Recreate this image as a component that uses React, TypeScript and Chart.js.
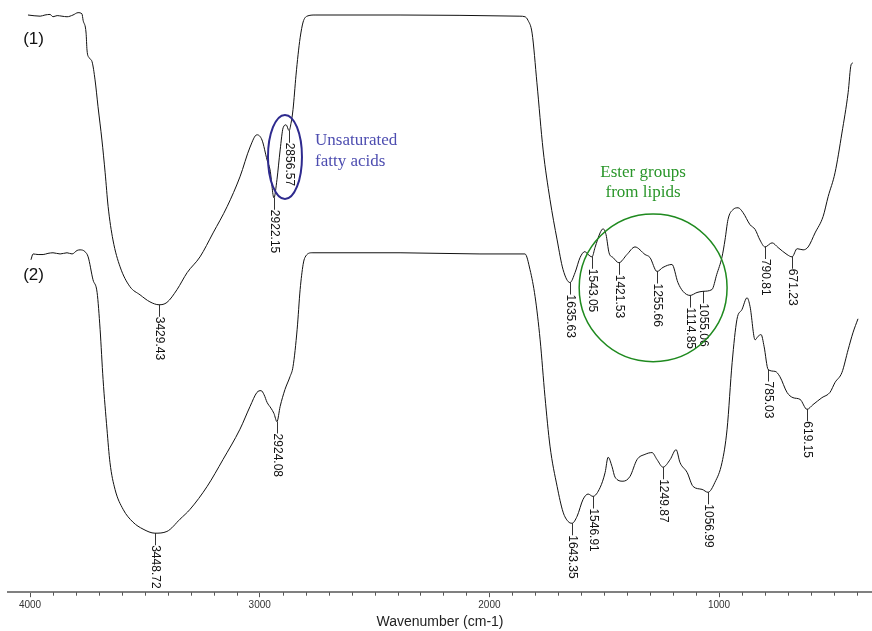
import React, { useEffect, useRef } from "react";
import { Chart, registerables } from "chart.js";

Chart.register(...registerables);

// Spectrum (1): wavenumber (cm-1) and transmittance-like values
const WAVENUMBER_1 = [
  4009, 3956, 3935, 3913, 3900, 3882, 3861, 3839, 3813, 3791, 3774, 3769, 3756, 3752, 3743, 3730,
  3717, 3704, 3687, 3673, 3660, 3639, 3608, 3565, 3521, 3478, 3438, 3404, 3360, 3316, 3260, 3203,
  3142, 3086, 3042, 3012, 2990, 2968, 2955, 2938, 2925, 2911, 2898, 2885, 2872, 2864, 2855, 2842,
  2833, 2824, 2811, 2794, 2759, 2389, 1867, 1845, 1832, 1814, 1793, 1766, 1736, 1705, 1679, 1649,
  1627, 1605, 1584, 1570, 1553, 1540, 1518, 1505, 1492, 1479, 1462, 1436, 1401, 1366, 1322, 1301,
  1270, 1244, 1205, 1179, 1157, 1126, 1096, 1070, 1031, 1010, 987, 974, 961, 939, 917, 896,
  865, 843, 822, 800, 769, 743, 704, 682, 660, 634, 612, 582, 547, 525, 495, 465,
  438, 425, 417,
];
const TRANSMITTANCE_1 = [
  98.8, 98.6, 98.8, 98.9, 98.5, 98.7, 98.6, 98.5, 98.8, 99.2, 99.0, 97.9, 95.7, 92.8, 91.5, 90.8,
  87.7, 83.1, 77.4, 71.8, 66.0, 60.3, 55.7, 52.3, 50.9, 49.7, 49.2, 49.6, 51.8, 54.7, 57.4, 61.5,
  66.0, 71.1, 76.2, 78.3, 77.4, 74.0, 72.3, 67.5, 70.6, 75.7, 79.5, 80.0, 79.0, 80.2, 82.6, 88.5,
  92.0, 94.9, 97.6, 98.6, 98.8, 98.8, 98.6, 98.5, 97.9, 95.7, 87.2, 75.7, 67.2, 60.3, 55.2, 53.0,
  54.7, 57.3, 58.3, 57.8, 57.4, 59.0, 61.5, 62.2, 61.2, 58.1, 57.3, 56.4, 57.8, 59.1, 57.8, 57.3,
  54.9, 55.6, 56.1, 53.0, 51.5, 50.8, 51.3, 51.5, 51.8, 54.4, 57.4, 60.3, 63.8, 65.5, 65.8, 65.0,
  62.9, 62.1, 60.3, 59.1, 59.8, 59.0, 57.8, 57.4, 58.8, 58.6, 59.1, 61.5, 64.3, 67.7, 71.8, 78.6,
  85.5, 90.3, 90.6,
];

// Spectrum (2)
const WAVENUMBER_2 = [
  3996, 3987, 3965, 3943, 3922, 3900, 3869, 3839, 3817, 3795, 3782, 3761, 3747, 3726, 3708, 3695,
  3682, 3665, 3652, 3630, 3595, 3552, 3508, 3456, 3404, 3347, 3303, 3229, 3160, 3086, 3042, 3012,
  2994, 2981, 2968, 2951, 2938, 2925, 2911, 2890, 2868, 2855, 2837, 2824, 2811, 2803, 2772, 2389,
  2041, 1845, 1823, 1801, 1779, 1758, 1736, 1705, 1679, 1657, 1640, 1618, 1592, 1570, 1549, 1518,
  1496, 1483, 1466, 1453, 1418, 1388, 1357, 1322, 1292, 1270, 1244, 1213, 1187, 1170, 1139, 1113,
  1074, 1048, 1018, 987, 965, 943, 922, 900, 878, 865, 843, 830, 817, 804, 786, 756,
  735, 704, 678, 647, 617, 591, 552, 517, 495, 465, 438, 417, 395,
];
const TRANSMITTANCE_2 = [
  56.9, 57.9, 57.8, 57.8, 58.0, 58.1, 57.9, 58.1, 57.9, 58.5, 58.6, 58.3, 57.4, 53.5, 51.3, 45.0,
  36.4, 27.9, 22.2, 17.6, 14.2, 12.0, 10.8, 10.1, 10.4, 12.5, 14.2, 18.1, 22.7, 27.9, 31.8, 34.2,
  34.5, 33.8, 32.5, 31.5, 30.6, 29.2, 31.8, 34.7, 36.9, 38.6, 45.0, 51.8, 56.1, 57.3, 58.1, 58.1,
  57.9, 57.9, 55.2, 50.6, 43.2, 33.5, 25.0, 18.1, 13.7, 12.1, 11.8, 13.0, 15.9, 16.8, 16.4, 17.9,
  20.5, 23.1, 21.5, 19.7, 19.0, 19.8, 22.7, 23.6, 23.9, 22.7, 21.4, 22.7, 24.4, 22.2, 20.5, 18.1,
  17.6, 17.1, 18.8, 22.2, 27.9, 39.3, 46.7, 48.4, 50.4, 48.9, 43.2, 43.8, 44.1, 42.1, 38.1, 37.8,
  36.9, 34.2, 33.3, 33.0, 31.3, 32.1, 33.3, 34.2, 35.9, 37.6, 41.5, 44.4, 46.8,
];

// Peak labels
const PEAKS_1 = ["3429.43", "2922.15", "2856.57", "1635.63", "1543.05", "1421.53", "1255.66", "1114.85", "1055.06", "790.81", "671.23"];
const PEAKS_2 = ["3448.72", "2924.08", "1643.35", "1546.91", "1249.87", "1056.99", "785.03", "619.15"];

// Axis ticks
const MAJOR_TICKS = [4000, 3000, 2000, 1000];
const MINOR_STEP = 100;
const X_MIN = 334;
const X_MAX = 4096;

const SANS = '"Liberation Sans", Arial, sans-serif';
const SERIF = '"Liberation Serif", "Times New Roman", serif';

function toPoints(ws: number[], ts: number[]) {
  return ws.map((w, i) => ({ x: w, y: ts[i] }));
}

const annotatePlugin = {
  id: "annotate",
  afterDraw(chart: any) {
    const { ctx, scales } = chart;
    const x = scales.x;
    const y = scales.y;
    const bottom = chart.chartArea.bottom;
    ctx.save();

    // minor ticks
    ctx.strokeStyle = "#555";
    ctx.lineWidth = 1;
    for (let v = Math.ceil(X_MIN / MINOR_STEP) * MINOR_STEP; v <= X_MAX; v += MINOR_STEP) {
      if (MAJOR_TICKS.includes(v)) continue;
      const px = Math.round(x.getPixelForValue(v)) + 0.5;
      ctx.beginPath();
      ctx.moveTo(px, bottom);
      ctx.lineTo(px, bottom + 3.5);
      ctx.stroke();
    }

    // peak labels
    const drawPeaks = (ws: number[], ts: number[], peaks: string[]) => {
      ctx.fillStyle = "#111";
      ctx.font = "12px " + SANS;
      ctx.textAlign = "left";
      ctx.textBaseline = "middle";
      for (const p of peaks) {
        const v = parseFloat(p);
        let best = -1;
        for (let i = 0; i < ws.length; i++) {
          if (ws[i] >= v - 10 && ws[i] <= v + 30 && (best < 0 || ts[i] < ts[best])) best = i;
        }
        if (best < 0) continue;
        const px = x.getPixelForValue(ws[best]);
        const py = y.getPixelForValue(ts[best]);
        ctx.save();
        ctx.translate(px, py);
        ctx.rotate(Math.PI / 2);
        ctx.fillText("\u2014" + p, 0, 0);
        ctx.restore();
      }
    };
    drawPeaks(WAVENUMBER_1, TRANSMITTANCE_1, PEAKS_1);
    drawPeaks(WAVENUMBER_2, TRANSMITTANCE_2, PEAKS_2);

    // series labels
    ctx.fillStyle = "#111";
    ctx.font = "17px " + SANS;
    ctx.textAlign = "left";
    ctx.textBaseline = "middle";
    ctx.fillText("(1)", x.getPixelForValue(4030), y.getPixelForValue(94.6));
    ctx.fillText("(2)", x.getPixelForValue(4030), y.getPixelForValue(54.2));

    // unsaturated fatty acids ellipse
    const ecx = x.getPixelForValue(2890);
    const ecy = y.getPixelForValue(74.5);
    const erx = Math.abs(x.getPixelForValue(2890 - 74) - ecx);
    const ery = Math.abs(y.getPixelForValue(74.5 + 7.2) - ecy);
    ctx.strokeStyle = "#2e2a8e";
    ctx.lineWidth = 2;
    ctx.beginPath();
    ctx.ellipse(ecx, ecy, erx, ery, 0, 0, Math.PI * 2);
    ctx.stroke();
    ctx.fillStyle = "#4d4db0";
    ctx.font = "17px " + SERIF;
    ctx.textAlign = "left";
    ctx.fillText("Unsaturated", x.getPixelForValue(2759), y.getPixelForValue(77.3));
    ctx.fillText("fatty acids", x.getPixelForValue(2759), y.getPixelForValue(73.8));

    // ester groups circle
    const ccx = x.getPixelForValue(1287);
    const ccy = y.getPixelForValue(52.1);
    const crx = Math.abs(x.getPixelForValue(1287 - 322) - ccx);
    const cry = Math.abs(y.getPixelForValue(52.1 + 12.65) - ccy);
    ctx.strokeStyle = "#1f8a1f";
    ctx.lineWidth = 1.5;
    ctx.beginPath();
    ctx.ellipse(ccx, ccy, crx, cry, 0, 0, Math.PI * 2);
    ctx.stroke();
    ctx.fillStyle = "#2a962a";
    ctx.textAlign = "center";
    ctx.fillText("Ester groups", x.getPixelForValue(1331), y.getPixelForValue(71.8));
    ctx.fillText("from lipids", x.getPixelForValue(1331), y.getPixelForValue(68.4));

    ctx.restore();
  },
};

export default function App() {
  const ref = useRef<HTMLCanvasElement | null>(null);
  useEffect(() => {
    if (!ref.current) return;
    const chart = new Chart(ref.current, {
      type: "line",
      data: {
        datasets: [
          {
            label: "(1)",
            data: toPoints(WAVENUMBER_1, TRANSMITTANCE_1),
            borderColor: "#111",
            borderWidth: 1,
            pointRadius: 0,
            fill: false,
            cubicInterpolationMode: "monotone",
          },
          {
            label: "(2)",
            data: toPoints(WAVENUMBER_2, TRANSMITTANCE_2),
            borderColor: "#111",
            borderWidth: 1,
            pointRadius: 0,
            fill: false,
            cubicInterpolationMode: "monotone",
          },
        ],
      },
      options: {
        responsive: false,
        animation: false,
        layout: { padding: { left: 8, right: 0, top: 8, bottom: 0 } },
        plugins: { legend: { display: false }, tooltip: { enabled: false } },
        scales: {
          x: {
            type: "linear",
            reverse: true,
            min: X_MIN,
            max: X_MAX,
            position: "bottom",
            afterBuildTicks: (s: any) => {
              s.ticks = MAJOR_TICKS.map((v) => ({ value: v }));
            },
            ticks: {
              autoSkip: false,
              maxRotation: 0,
              padding: 2.5,
              color: "#333",
              font: { family: SANS, size: 10 },
              callback: (v: any) => String(v),
            },
            grid: {
              drawOnChartArea: false,
              drawTicks: true,
              tickLength: 5,
              tickColor: "#555",
              tickWidth: 1,
            },
            border: { display: true, color: "#808080", width: 2 },
            title: {
              display: true,
              text: "Wavenumber (cm-1)",
              color: "#222",
              font: { family: SANS, size: 14 },
              padding: { top: 0, bottom: 0 },
            },
          },
          y: { display: false, min: 0, max: 100 },
        },
      },
      plugins: [annotatePlugin],
    });
    return () => chart.destroy();
  }, []);
  return (
    <div style={{ position: "absolute", left: 0, top: 0, width: 872, height: 631 }}>
      <canvas ref={ref} width={872} height={631} style={{ width: 872, height: 631, display: "block" }} />
    </div>
  );
}
